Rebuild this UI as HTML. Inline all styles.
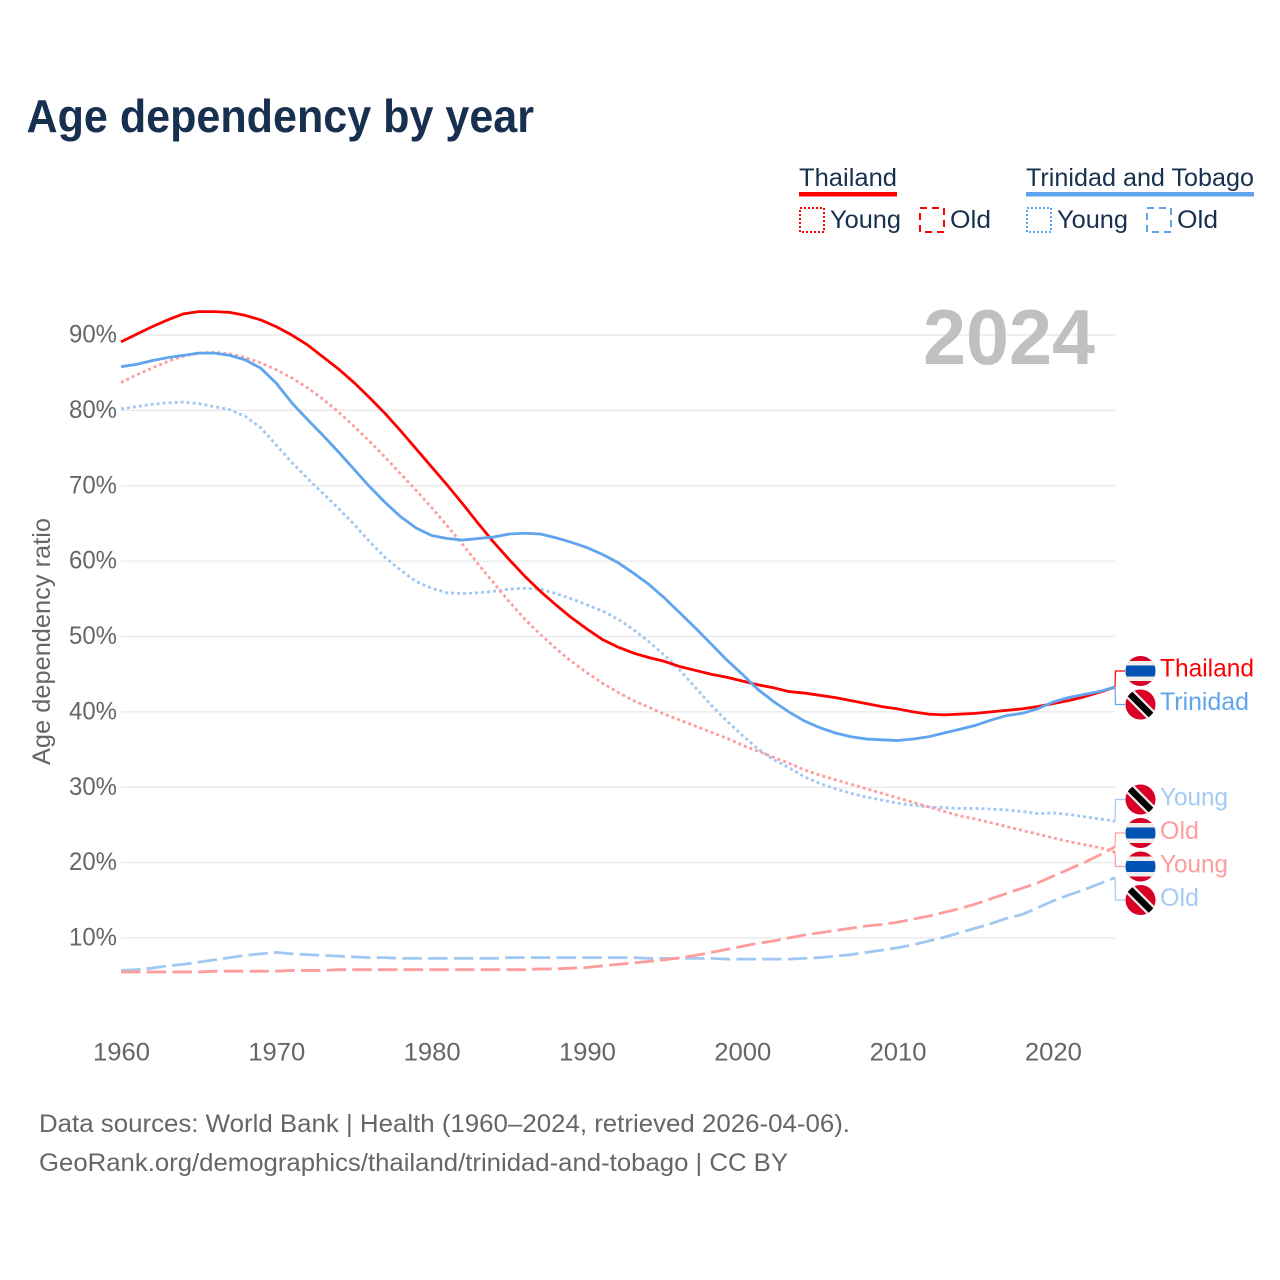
<!DOCTYPE html>
<html lang="en">
<head>
<meta charset="utf-8">
<title>Age dependency by year</title>
<style>
html,body{margin:0;padding:0;background:#fff}
svg{display:block}
text{font-family:"Liberation Sans",sans-serif}
.tick{font-size:25px;fill:#666}
.leg{font-size:25px;fill:#18304f}
.foot{font-size:25px;fill:#666}
.end{font-size:25px}
</style>
</head>
<body>
<svg id="chart" width="1280" height="1280" viewBox="0 0 1280 1280" xmlns="http://www.w3.org/2000/svg">
<defs>
<clipPath id="flag-clip"><circle cx="0" cy="0" r="15"/></clipPath>
<symbol id="thai-flag" overflow="visible">
<g clip-path="url(#flag-clip)">
<rect x="-15" y="-15" width="30" height="30" fill="#d80027"/>
<rect x="-15" y="-10" width="30" height="20" fill="#eeeeee"/>
<rect x="-15" y="-5.5" width="30" height="11" fill="#0052b4"/>
</g>
</symbol>
<symbol id="tt-flag" overflow="visible">
<g clip-path="url(#flag-clip)">
<rect x="-15" y="-15" width="30" height="30" fill="#d80027"/>
<line x1="-15" y1="-15" x2="15" y2="15" stroke="#eeeeee" stroke-width="11"/>
<line x1="-15" y1="-15" x2="15" y2="15" stroke="#000000" stroke-width="6.5"/>
</g>
</symbol>
</defs>

<text x="26.5" y="132" font-size="46" font-weight="700" fill="#18304f" textLength="507.5" lengthAdjust="spacingAndGlyphs">Age dependency by year</text>

<g>
<text class="leg" x="799" y="186" textLength="98" lengthAdjust="spacingAndGlyphs">Thailand</text>
<rect x="799" y="192" width="98" height="4.5" fill="#ff0000"/>
<rect x="800" y="208" width="24" height="24" fill="none" stroke="#ff0000" stroke-width="2" stroke-dasharray="2 2"/>
<text class="leg" x="830" y="228" textLength="71" lengthAdjust="spacingAndGlyphs">Young</text>
<rect x="920" y="208" width="24" height="24" fill="none" stroke="#ff0000" stroke-width="2" stroke-dasharray="7 5"/>
<text class="leg" x="950" y="228" textLength="41" lengthAdjust="spacingAndGlyphs">Old</text>

<text class="leg" x="1026" y="186" textLength="228" lengthAdjust="spacingAndGlyphs">Trinidad and Tobago</text>
<rect x="1026" y="192" width="228" height="4.5" fill="#5fa4ef"/>
<rect x="1027" y="208" width="24" height="24" fill="none" stroke="#5fa4ef" stroke-width="2" stroke-dasharray="2 2"/>
<text class="leg" x="1057" y="228" textLength="71" lengthAdjust="spacingAndGlyphs">Young</text>
<rect x="1147" y="208" width="24" height="24" fill="none" stroke="#5fa4ef" stroke-width="2" stroke-dasharray="7 5"/>
<text class="leg" x="1177" y="228" textLength="41" lengthAdjust="spacingAndGlyphs">Old</text>
</g>

<g id="grid"></g>
<g id="yticks"></g>
<g id="xticks"></g>

<text transform="translate(50,641.5) rotate(-90)" text-anchor="middle" font-size="25" fill="#666" textLength="247" lengthAdjust="spacingAndGlyphs">Age dependency ratio</text>
<text x="923" y="364" font-size="78" font-weight="700" fill="#c0c0c0" textLength="172" lengthAdjust="spacingAndGlyphs">2024</text>

<g id="series"></g>
<g id="connectors"></g>

<g>
<use href="#thai-flag" x="1140.5" y="671"/>
<use href="#tt-flag" x="1140.5" y="704.5"/>
<use href="#tt-flag" x="1140.5" y="799.5"/>
<use href="#thai-flag" x="1140.5" y="833"/>
<use href="#thai-flag" x="1140.5" y="866.5"/>
<use href="#tt-flag" x="1140.5" y="900"/>
<text class="end" x="1160" y="676.5" fill="#ff0000" textLength="94" lengthAdjust="spacingAndGlyphs">Thailand</text>
<text class="end" x="1160" y="710" fill="#5fa4ef" textLength="89" lengthAdjust="spacingAndGlyphs">Trinidad</text>
<text class="end" x="1160" y="805.5" fill="#a5cbf5" textLength="68" lengthAdjust="spacingAndGlyphs">Young</text>
<text class="end" x="1160" y="839" fill="#ff9d9d" textLength="39" lengthAdjust="spacingAndGlyphs">Old</text>
<text class="end" x="1160" y="872.5" fill="#ff9d9d" textLength="68" lengthAdjust="spacingAndGlyphs">Young</text>
<text class="end" x="1160" y="906" fill="#a5cbf5" textLength="39" lengthAdjust="spacingAndGlyphs">Old</text>
</g>

<text class="foot" x="39" y="1132" textLength="811" lengthAdjust="spacingAndGlyphs">Data sources: World Bank | Health (1960–2024, retrieved 2026-04-06).</text>
<text class="foot" x="39" y="1171" textLength="749" lengthAdjust="spacingAndGlyphs">GeoRank.org/demographics/thailand/trinidad-and-tobago | CC BY</text>
</svg>

<script>
const startYear = 1960;
const xTickYears = [1960, 1970, 1980, 1990, 2000, 2010, 2020];
const yTickValues = [10, 20, 30, 40, 50, 60, 70, 80, 90];

const thailandTotal = [89.1,90.1,91.1,92.0,92.8,93.1,93.1,93.0,92.6,92.0,91.1,90.0,88.7,87.1,85.5,83.7,81.7,79.6,77.3,74.9,72.5,70.1,67.6,65.0,62.5,60.2,58.0,56.0,54.2,52.5,51.0,49.6,48.6,47.8,47.2,46.7,46.0,45.5,45.0,44.6,44.1,43.6,43.2,42.7,42.5,42.2,41.9,41.5,41.1,40.7,40.4,40.0,39.7,39.6,39.7,39.8,40.0,40.2,40.4,40.7,41.1,41.5,42.0,42.6,43.3];
const trinidadTotal = [85.8,86.1,86.6,87.0,87.3,87.6,87.6,87.3,86.7,85.6,83.6,81.0,78.8,76.7,74.5,72.2,69.9,67.8,65.9,64.4,63.4,63.0,62.8,63.0,63.2,63.6,63.7,63.6,63.1,62.5,61.8,60.9,59.8,58.4,56.9,55.1,53.1,51.1,49.0,46.9,45.0,43.0,41.4,40.0,38.8,37.9,37.2,36.7,36.4,36.3,36.2,36.4,36.7,37.2,37.7,38.2,38.9,39.5,39.8,40.4,41.3,41.9,42.3,42.7,43.3];
const thailandYoung = [83.7,84.7,85.6,86.5,87.2,87.6,87.7,87.5,87.0,86.3,85.4,84.3,83.0,81.5,79.8,77.9,75.9,73.8,71.6,69.4,67.1,64.7,62.2,59.6,57.1,54.6,52.3,50.3,48.4,46.7,45.2,43.8,42.6,41.5,40.6,39.7,38.9,38.1,37.3,36.5,35.6,34.8,34.0,33.2,32.3,31.6,31.0,30.4,29.8,29.2,28.6,28.0,27.4,26.8,26.2,25.8,25.3,24.8,24.3,23.8,23.3,22.8,22.4,22.0,21.4];
const trinidadYoung = [80.2,80.5,80.8,81.0,81.1,80.9,80.5,80.1,79.2,77.7,75.4,73.1,71.0,69.0,67.0,64.9,62.6,60.5,58.8,57.3,56.4,55.8,55.7,55.8,56.0,56.3,56.4,56.3,55.7,55.0,54.2,53.4,52.3,50.9,49.3,47.5,45.5,43.2,40.9,38.8,36.9,35.1,33.7,32.6,31.4,30.5,29.8,29.2,28.7,28.3,27.9,27.6,27.4,27.3,27.2,27.2,27.1,27.0,26.8,26.5,26.6,26.4,26.1,25.8,25.5];
const thailandOld = [5.5,5.5,5.5,5.5,5.5,5.5,5.6,5.6,5.6,5.6,5.6,5.7,5.7,5.7,5.8,5.8,5.8,5.8,5.8,5.8,5.8,5.8,5.8,5.8,5.8,5.8,5.8,5.9,5.9,6.0,6.1,6.3,6.5,6.7,6.9,7.1,7.4,7.7,8.1,8.5,8.9,9.3,9.6,10.0,10.4,10.7,11.0,11.3,11.6,11.8,12.1,12.5,12.9,13.4,13.9,14.5,15.2,15.9,16.6,17.3,18.2,19.1,20.0,21.0,22.1];
const trinidadOld = [5.7,5.8,6.0,6.3,6.5,6.8,7.1,7.4,7.7,7.9,8.1,7.9,7.8,7.7,7.6,7.5,7.4,7.4,7.3,7.3,7.3,7.3,7.3,7.3,7.3,7.4,7.4,7.4,7.4,7.4,7.4,7.4,7.4,7.4,7.3,7.3,7.3,7.3,7.3,7.2,7.2,7.2,7.2,7.2,7.3,7.4,7.6,7.8,8.1,8.4,8.7,9.1,9.6,10.1,10.7,11.3,11.9,12.6,13.1,14.0,14.9,15.7,16.4,17.2,18.0];

const NS = 'http://www.w3.org/2000/svg';
function xScale(year) { return 121 + (year - 1960) * (994 / 64); }
function yScale(v) { return 1013.4 - v * 7.5375; }

const gridG = document.getElementById('grid');
const yG = document.getElementById('yticks');
const xG = document.getElementById('xticks');
const seriesG = document.getElementById('series');
const connG = document.getElementById('connectors');

yTickValues.forEach(function (v) {
  const l = document.createElementNS(NS, 'line');
  
  
  l.setAttribute('x1', 121);
  l.setAttribute('x2', 1115);
  l.setAttribute('y1', yScale(v));
  l.setAttribute('y2', yScale(v));
  l.setAttribute('stroke', '#e8e8e8');
  l.setAttribute('stroke-width', '1.3');
  gridG.appendChild(l);

  const t = document.createElementNS(NS, 'text');
  
  
  t.setAttribute('class', 'tick');
  t.setAttribute('x', 117);
  t.setAttribute('y', yScale(v) + 7.5);
  t.setAttribute('text-anchor', 'end');
  t.setAttribute('textLength', '48');
  t.setAttribute('lengthAdjust', 'spacingAndGlyphs');
  t.textContent = v + '%';
  yG.appendChild(t);
});

xTickYears.forEach(function (yr) {
  const t = document.createElementNS(NS, 'text');
  
  
  t.setAttribute('class', 'tick');
  t.setAttribute('x', xScale(yr) + 0.5);
  t.setAttribute('y', 1060.5);
  t.setAttribute('text-anchor', 'middle');
  t.setAttribute('textLength', '57');
  t.setAttribute('lengthAdjust', 'spacingAndGlyphs');
  t.textContent = yr;
  xG.appendChild(t);
});

function drawLine(values, color, dash, name) {
  const p = document.createElementNS(NS, 'path');
  
  
  p.setAttribute('d', values.map(function (v, i) {
    return (i ? 'L' : 'M') + xScale(startYear + i).toFixed(2) + ' ' + yScale(v).toFixed(2);
  }).join(''));
  p.setAttribute('fill', 'none');
  p.setAttribute('stroke', color);
  p.setAttribute('stroke-width', '2.8');
  p.setAttribute('stroke-linejoin', 'round');
  if (dash) p.setAttribute('stroke-dasharray', dash);
  seriesG.appendChild(p);
}

function drawConnector(values, labelY, color, name) {
  const p = document.createElementNS(NS, 'path');
  
  
  const yEnd = yScale(values[values.length - 1]);
  p.setAttribute('d', 'M1115 ' + yEnd.toFixed(2) + 'L1115.5 ' + labelY + 'L1125 ' + labelY);
  p.setAttribute('fill', 'none');
  p.setAttribute('stroke', color);
  p.setAttribute('stroke-width', '1.2');
  connG.appendChild(p);
}

drawLine(trinidadOld, '#a0c8f3', '19.5 6.2', 'line-trinidad-old');
drawLine(thailandOld, '#ff9d9d', '19.5 6.2', 'line-thailand-old');
drawLine(trinidadYoung, '#a0c8f3', '3 3', 'line-trinidad-young');
drawLine(thailandYoung, '#ff9d9d', '3 3', 'line-thailand-young');
drawLine(thailandTotal, '#ff0000', '', 'line-thailand-total');
drawLine(trinidadTotal, '#5fa4ef', '', 'line-trinidad-total');

drawConnector(thailandTotal, 671, '#ff0000', 'connector-thailand-total');
drawConnector(trinidadTotal, 704.5, '#5fa4ef', 'connector-trinidad-total');
drawConnector(trinidadYoung, 799.5, '#a0c8f3', 'connector-trinidad-young');
drawConnector(thailandOld, 833, '#ff9d9d', 'connector-thailand-old');
drawConnector(thailandYoung, 866.5, '#ff9d9d', 'connector-thailand-young');
drawConnector(trinidadOld, 900, '#a0c8f3', 'connector-trinidad-old');
</script>
</body>
</html>
